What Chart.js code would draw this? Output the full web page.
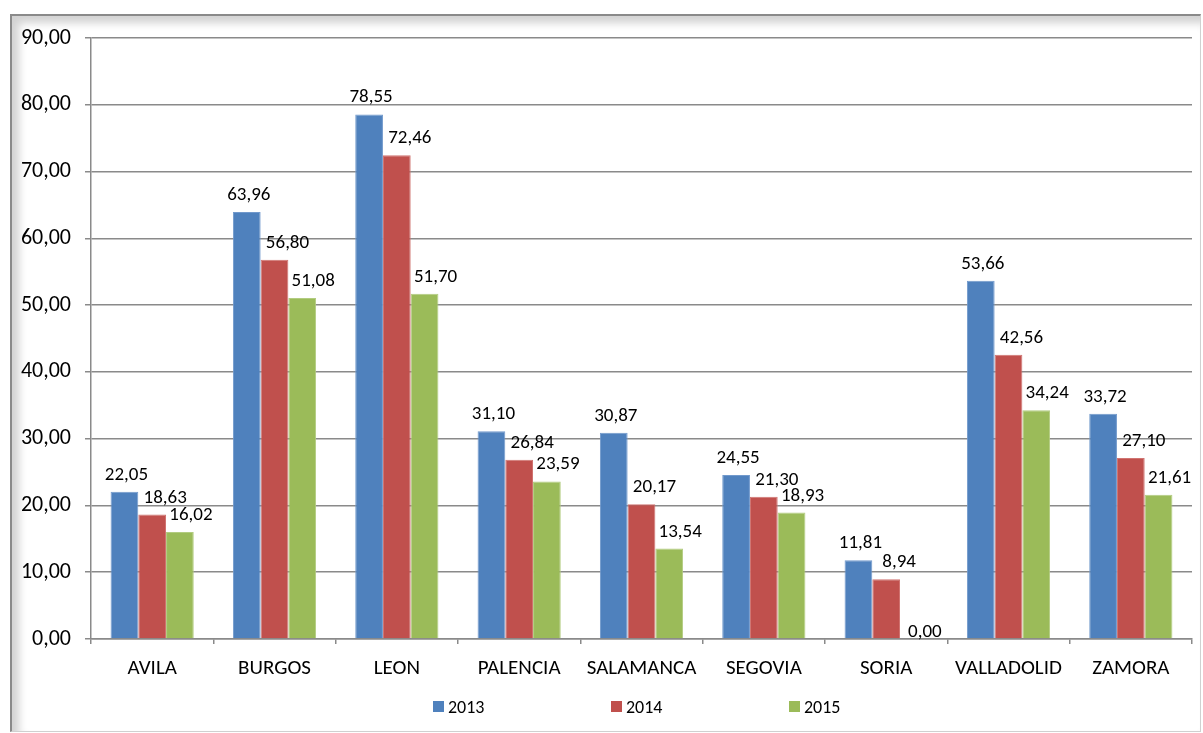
<!DOCTYPE html>
<html>
<head>
<meta charset="utf-8">
<script src="https://cdn.jsdelivr.net/npm/chart.js@4/dist/chart.umd.min.js"></script>
<style>
  html, body { margin:0; padding:0; background:#fff; overflow:hidden; }
  #wrap { position:relative; width:1203px; height:733px; }
  #frame { position:absolute; left:10px; top:14px; width:1188px; height:715px;
    border-left:2px solid #8a8a8a; border-top:2px solid #8a8a8a;
    border-right:1px solid #d0d0d0; border-bottom:1px solid #d0d0d0;
    box-shadow: inset 7px 7px 9px rgba(0,0,0,0.18); }
  canvas { position:absolute; left:0; top:0; }
</style>
</head>
<body>
<div id="wrap">
  <div id="frame"></div>
  <canvas id="c" width="1203" height="733"></canvas>
</div>
<script>
const categories = ['AVILA','BURGOS','LEON','PALENCIA','SALAMANCA','SEGOVIA','SORIA','VALLADOLID','ZAMORA'];
const seriesNames = ['2013','2014','2015'];
const values2013 = [22.05, 63.96, 78.55, 31.10, 30.87, 24.55, 11.81, 53.66, 33.72];
const values2014 = [18.63, 56.80, 72.46, 26.84, 20.17, 21.30, 8.94, 42.56, 27.10];
const values2015 = [16.02, 51.08, 51.70, 23.59, 13.54, 18.93, 0.00, 34.24, 21.61];
const yTicks = [0, 10, 20, 30, 40, 50, 60, 70, 80, 90];

const colors = ['#4F81BD', '#C0504D', '#9BBB59'];
const borders = ['#7199cc', '#d07471', '#b2cc80'];
const FONT = 'Carlito, Lato, "Liberation Sans", sans-serif';
const fmt = v => v.toFixed(2).replace('.', ',');

const dataLabels = {
  id: 'dataLabels',
  afterDatasetsDraw(chart, args, opts) {
    const ctx = chart.ctx;
    ctx.save();
    ctx.font = '19px ' + FONT;
    ctx.fillStyle = '#000';
    ctx.textAlign = 'center';
    ctx.textBaseline = 'alphabetic';
    chart.data.datasets.forEach((ds, di) => {
      const meta = chart.getDatasetMeta(di);
      meta.data.forEach((bar, i) => {
        const v = ds.data[i];
        const gap = v === 0 ? 2 : 12;
        ctx.fillText(fmt(v), bar.x + opts.dx[di], bar.y - gap);
      });
    });
    ctx.restore();
  }
};

const customLegend = {
  id: 'customLegend',
  afterDraw(chart, args, opts) {
    const ctx = chart.ctx;
    ctx.save();
    ctx.font = '18px ' + FONT;
    ctx.textBaseline = 'middle';
    ctx.textAlign = 'left';
    const step = 178, box = 11;
    const tw = ctx.measureText(seriesNames[0]).width;
    const total = step * (seriesNames.length - 1) + box + 5 + tw;
    const cx = (chart.chartArea.left + chart.chartArea.right) / 2;
    let x = Math.round(cx - total / 2) - 4;
    const y = 707;
    chart.data.datasets.forEach((ds, di) => {
      ctx.fillStyle = colors[di];
      ctx.fillRect(x, y - 6, box, box);
      ctx.fillStyle = '#000';
      ctx.fillText(ds.label, x + box + 4, y + 1);
      x += step;
    });
    ctx.restore();
  }
};

const allValues = [values2013, values2014, values2015];

new Chart(document.getElementById('c'), {
  type: 'bar',
  data: {
    labels: categories,
    datasets: seriesNames.map((n, i) => ({
      label: n,
      data: allValues[i],
      backgroundColor: colors[i],
      borderColor: borders[i],
      borderWidth: 1,
      borderSkipped: 'bottom',
      categoryPercentage: 0.68,
      barPercentage: 1.0
    }))
  },
  options: {
    responsive: false,
    animation: false,
    layout: { padding: { left: 0, top: 38, right: 11, bottom: 44 } },
    plugins: {
      legend: { display: false },
      tooltip: { enabled: false },
      dataLabels: { dx: [2, 13, 11] }
    },
    scales: {
      x: {
        afterFit: s => { s.height = 50; },
        grid: { drawOnChartArea: false, drawTicks: true, tickLength: 5, color: '#8a8a8a', lineWidth: 1.5, offset: true },
        border: { color: '#8a8a8a', width: 1.5 },
        ticks: { color: '#000', font: { family: FONT, size: 21 }, padding: 12, maxRotation: 0 }
      },
      y: {
        min: 0, max: 90,
        afterFit: s => { s.width = 91; },
        afterBuildTicks: s => { s.ticks = yTicks.map(v => ({ value: v })); },
        grid: { color: '#8a8a8a', lineWidth: 1.5, tickLength: 6 },
        border: { color: '#8a8a8a', width: 1.5 },
        ticks: { color: '#000', font: { family: FONT, size: 22 }, padding: 14, callback: v => fmt(v) }
      }
    }
  },
  plugins: [dataLabels, customLegend]
});
</script>
</body>
</html>
